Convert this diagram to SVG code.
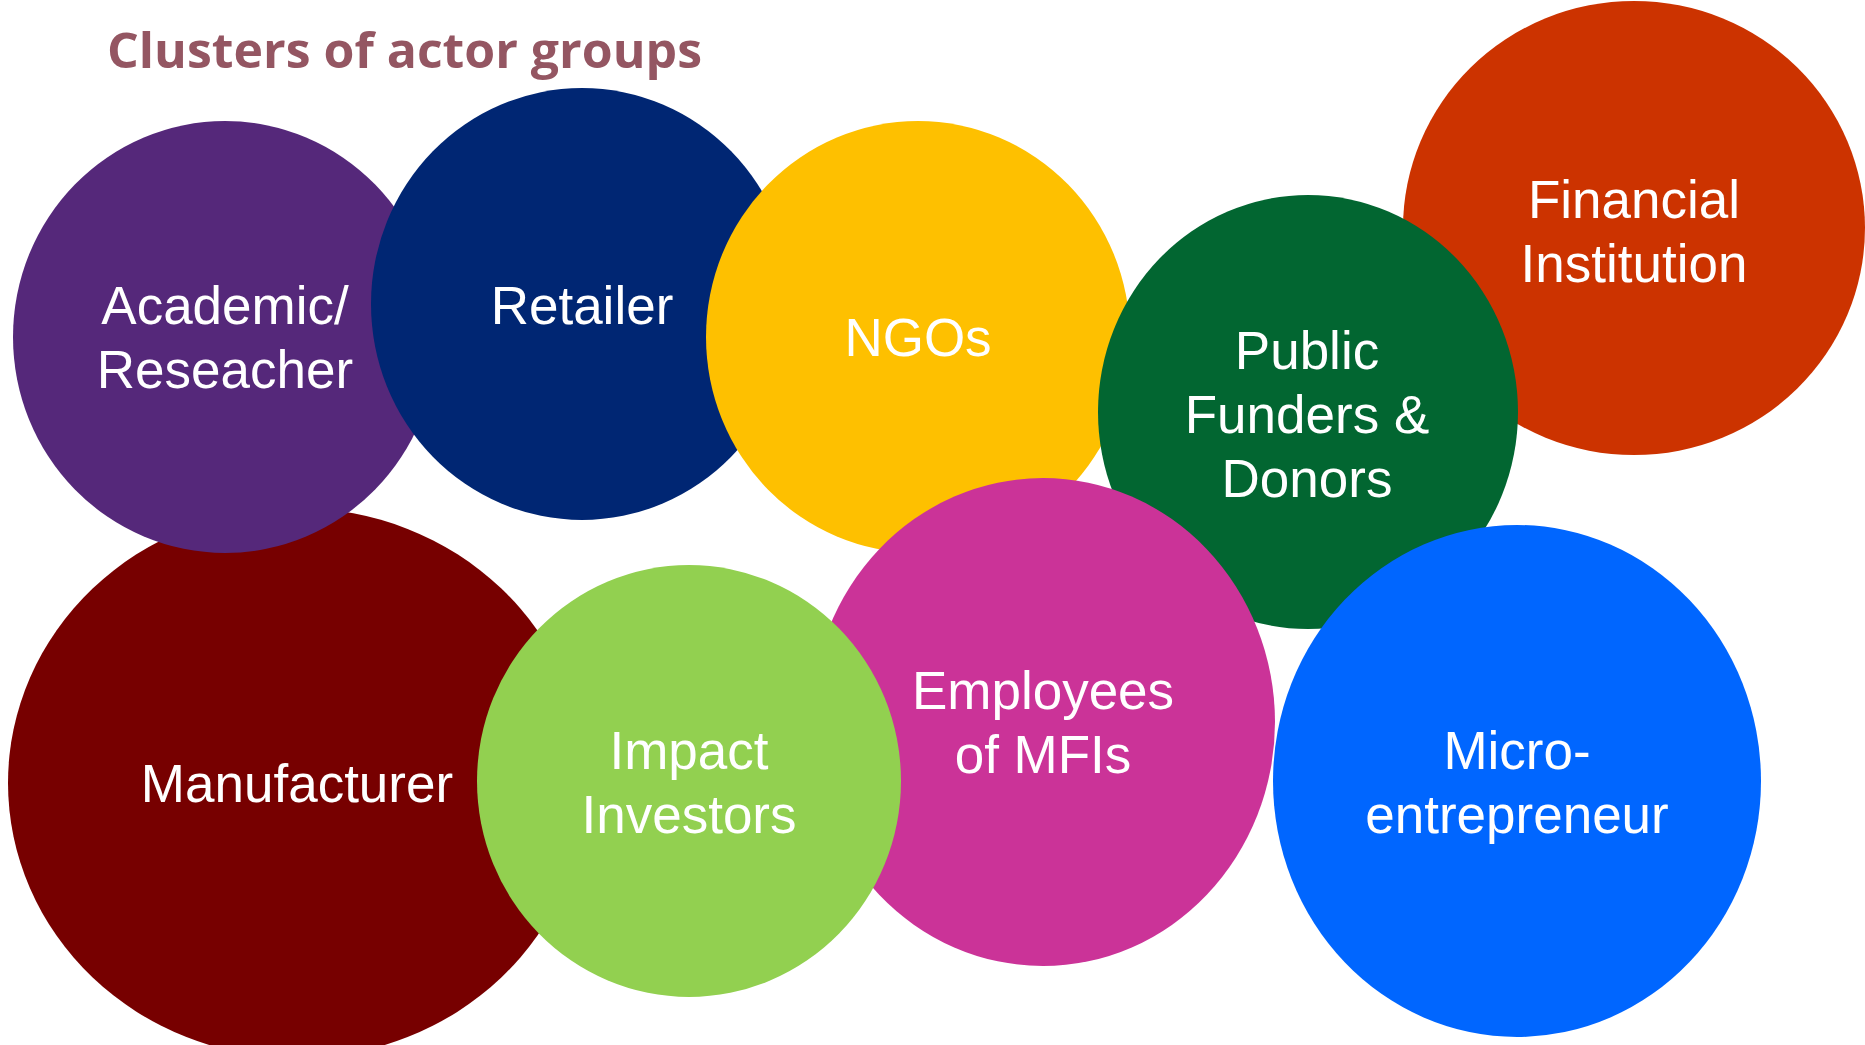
<svg xmlns="http://www.w3.org/2000/svg" width="1865" height="1045" viewBox="0 0 1865 1045">
<style>
.lbl{font-family:"Liberation Sans",Arial,sans-serif;font-size:53px;fill:#ffffff;text-anchor:middle}
.title{font-family:"Open Sans","Liberation Sans",sans-serif;font-size:48px;font-weight:700;fill:#945662}
</style>
<rect width="1865" height="1045" fill="#ffffff"/>
<text class="title" x="107" y="68" textLength="595" lengthAdjust="spacingAndGlyphs">Clusters of actor groups</text>
<g id="manufacturer">
<ellipse cx="297" cy="783" rx="289" ry="275" fill="#770000"/>
<text class="lbl" x="297" y="802">Manufacturer</text>
</g>
<g id="academic">
<ellipse cx="225" cy="337" rx="212" ry="216" fill="#55287a"/>
<text class="lbl" x="225" y="324">Academic/</text>
<text class="lbl" x="225" y="388">Reseacher</text>
</g>
<g id="retailer">
<ellipse cx="582" cy="304" rx="211" ry="216" fill="#002673"/>
<text class="lbl" x="582" y="324">Retailer</text>
</g>
<g id="ngos">
<ellipse cx="918" cy="337" rx="212" ry="216" fill="#fec000"/>
<text class="lbl" x="918" y="356">NGOs</text>
</g>
<g id="financial">
<ellipse cx="1634" cy="228" rx="231" ry="227" fill="#cc3300"/>
<text class="lbl" x="1634" y="218">Financial</text>
<text class="lbl" x="1634" y="282">Institution</text>
</g>
<g id="public">
<ellipse cx="1308" cy="412" rx="210" ry="217" fill="#026631"/>
<text class="lbl" x="1307" y="369">Public</text>
<text class="lbl" x="1307" y="433">Funders &amp;</text>
<text class="lbl" x="1307" y="497">Donors</text>
</g>
<g id="employees">
<ellipse cx="1043" cy="722" rx="232" ry="244" fill="#cb3398"/>
<text class="lbl" x="1043" y="709">Employees</text>
<text class="lbl" x="1043" y="773">of MFIs</text>
</g>
<g id="impact">
<ellipse cx="689" cy="781" rx="212" ry="216" fill="#92d050"/>
<text class="lbl" x="689" y="769">Impact</text>
<text class="lbl" x="689" y="833">Investors</text>
</g>
<g id="micro">
<ellipse cx="1517" cy="781" rx="244" ry="256" fill="#0066ff"/>
<text class="lbl" x="1517" y="769">Micro-</text>
<text class="lbl" x="1517" y="833">entrepreneur</text>
</g>
<g id="connectors"></g>
</svg>
